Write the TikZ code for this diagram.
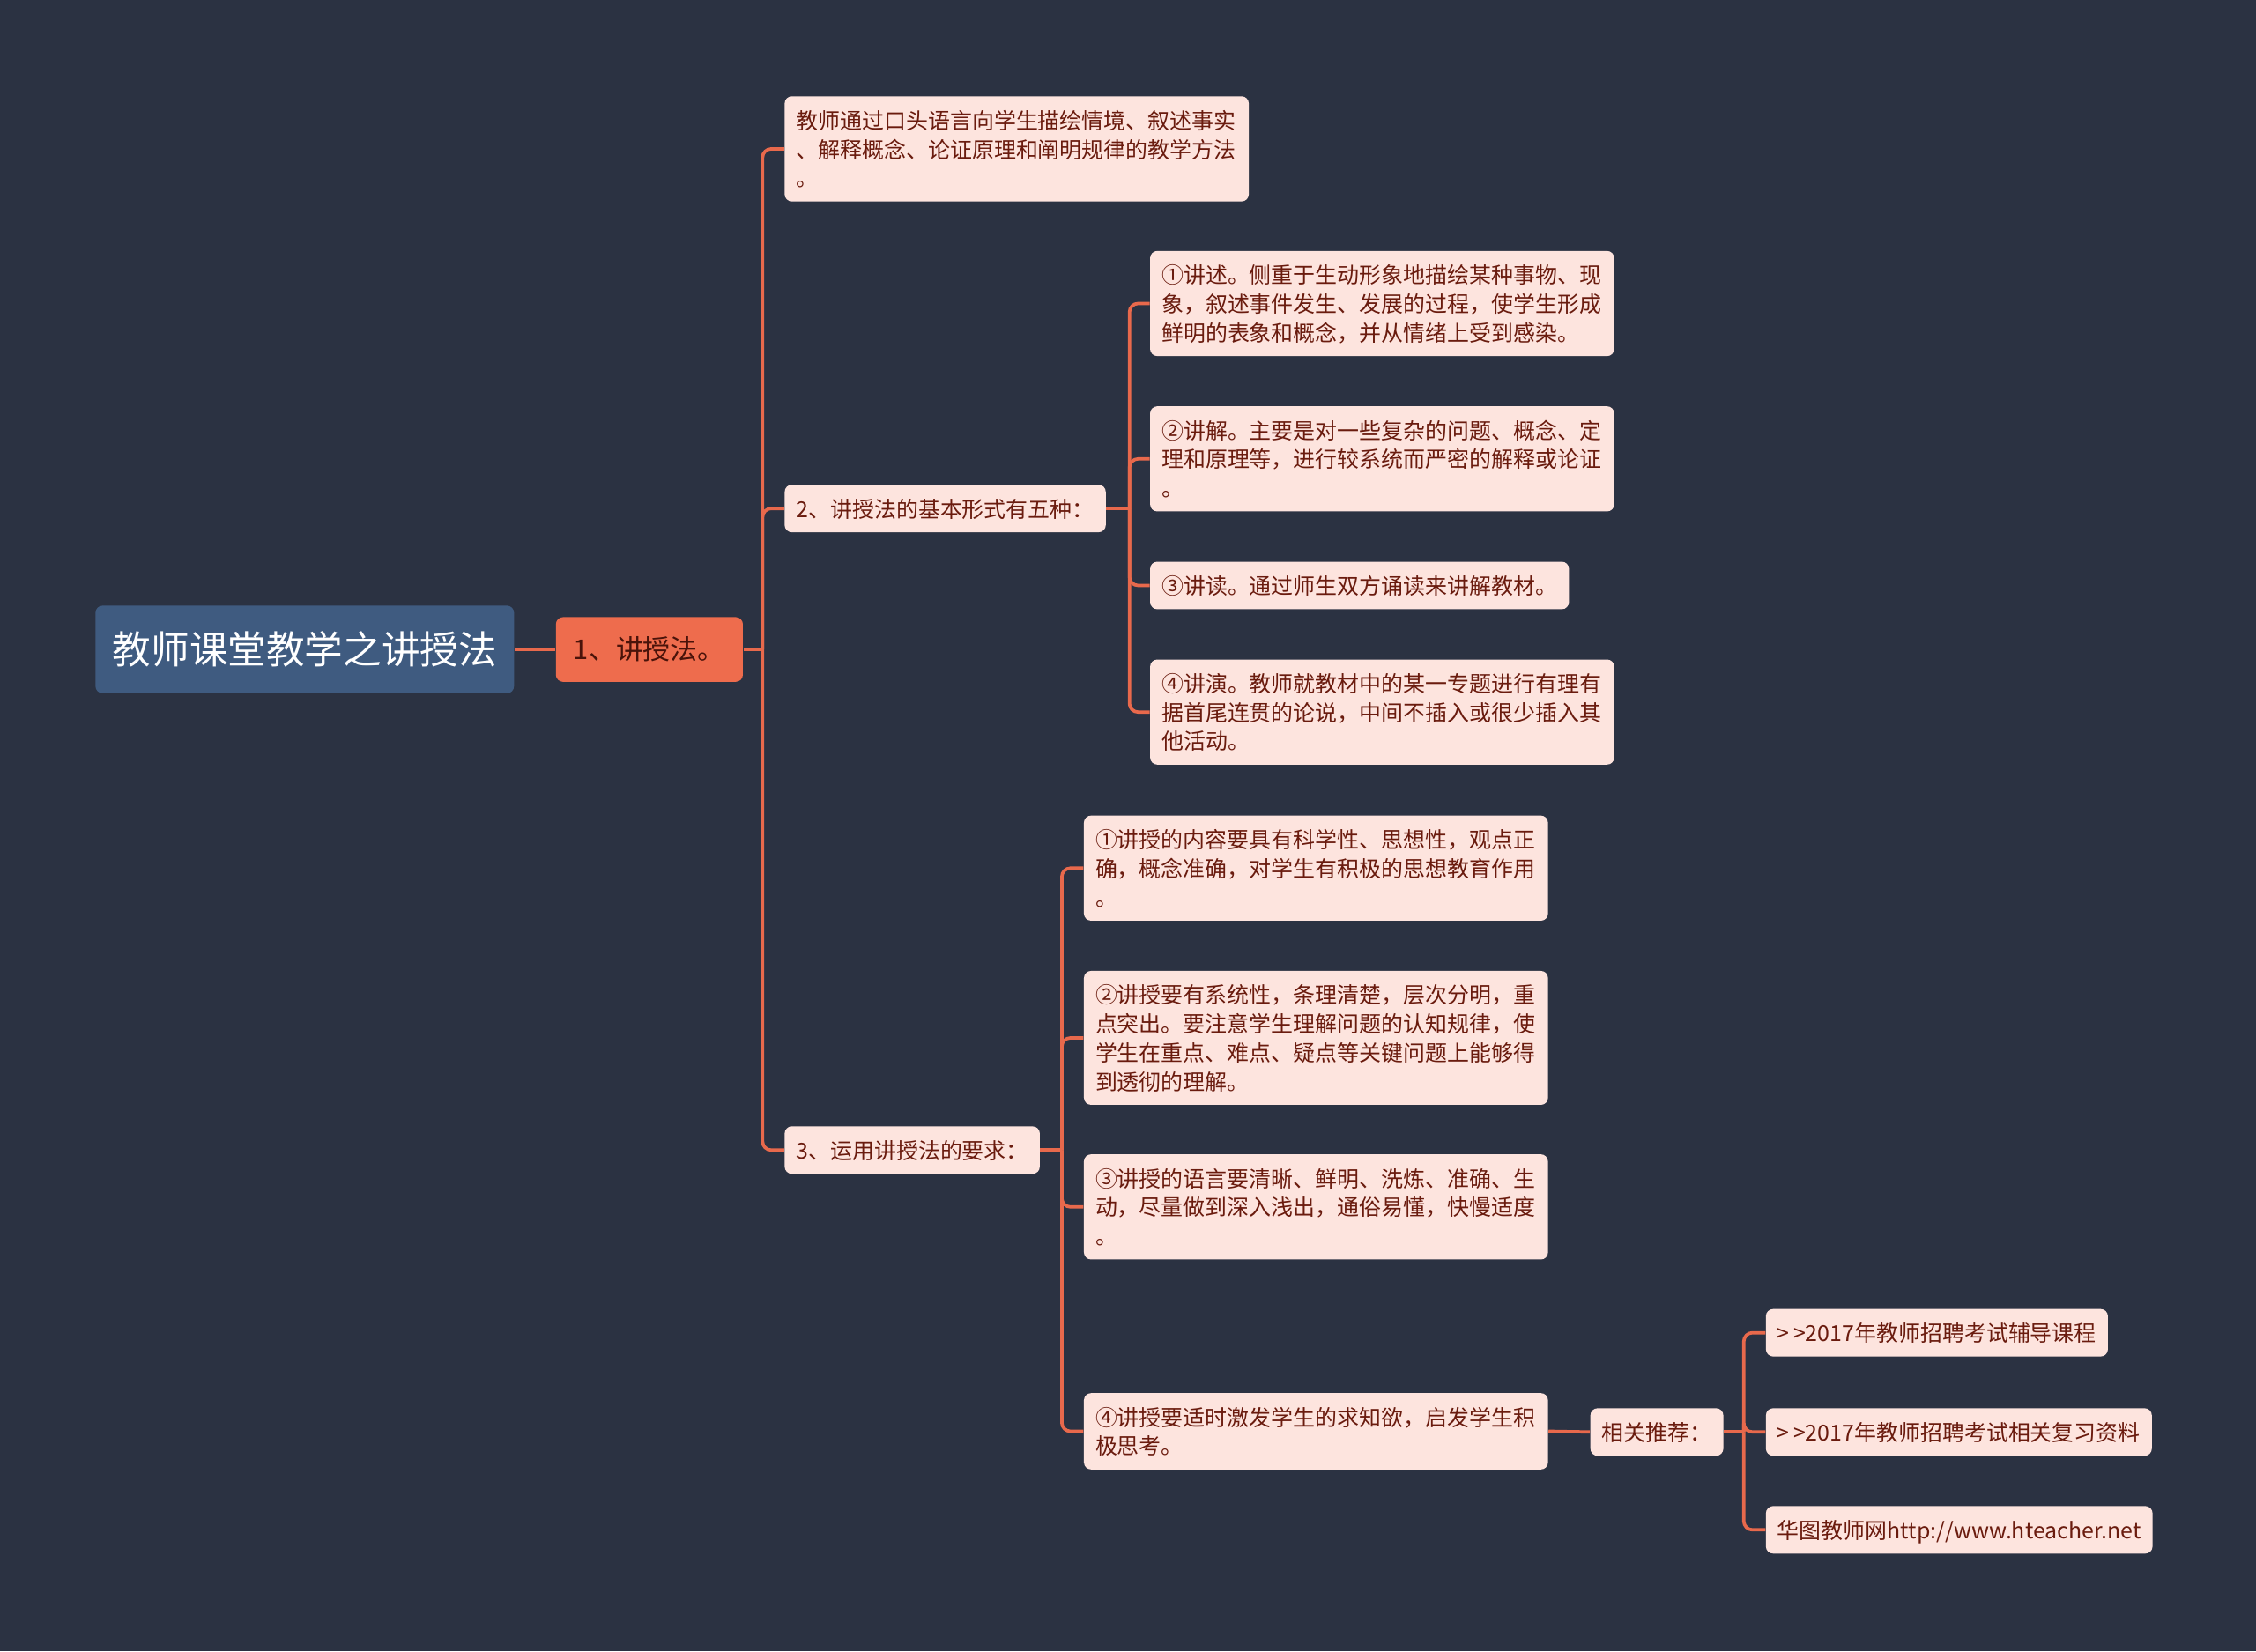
\documentclass[tikz,border=0pt]{standalone}
\usepackage{fontspec}
\setmainfont{Noto Sans CJK SC}
\usepackage{xcolor}
\definecolor{PageNavy}{HTML}{2B3242}
\definecolor{RootBlue}{HTML}{3F5B80}
\definecolor{TopicOrange}{HTML}{EE6C4D}
\definecolor{LeafBlush}{HTML}{FDE4DE}
\definecolor{InkMaroon}{HTML}{6A1B0E}
\definecolor{LinkCoral}{HTML}{E8694C}
\usetikzlibrary{positioning}
\tikzset{
  rootbox/.style={fill=RootBlue, text=white, rounded corners=0.1cm, anchor=west, inner xsep=0pt,
    minimum width=5.82cm, minimum height=1.22cm, font=\fontsize{15.2}{18}\selectfont},
  topicbox/.style={fill=TopicOrange, text=InkMaroon!70!black, rounded corners=0.1cm, anchor=west,
    minimum width=2.6cm, minimum height=0.9cm, font=\fontsize{10.8}{13}\selectfont},
  leafbox/.style={fill=LeafBlush, text=InkMaroon, rounded corners=0.1cm, anchor=west,
    inner xsep=0.16cm, inner ysep=0.13cm, align=left, font=\fontsize{8.7}{11.4}\selectfont,
    execute at begin node=\rule{0pt}{9.2pt}, execute at end node=\rule[-2.2pt]{0pt}{2.2pt}},
  wideleaf/.style={leafbox, text width=174.5pt},
  link/.style={draw=LinkCoral, line width=1.3pt},
  elbow/.style={link, rounded corners=0.12cm}
}

\begin{document}
\begin{tikzpicture}[x=0.02cm, y=-0.02cm]
  \fill[PageNavy] (0,0) rectangle (1568,1148);
  \useasboundingbox (0,0) rectangle (1568,1148);

  \node[rootbox] (root) at (66,451.5) {教师课堂教学之讲授法};
  \node[topicbox] (topic) at (386,451.5) {1、讲授法。};

  \node[wideleaf] (meaning) at (545,103.5) {教师通过口头语言向学生描绘情境、叙述事实\\、解释概念、论证原理和阐明规律的教学方法\\。};
  \node[leafbox] (forms) at (545,353.5) {2、讲授法的基本形式有五种：};
  \node[leafbox] (needs) at (545,799.5) {3、运用讲授法的要求：};

  \node[wideleaf] (narrate) at (799,211) {①讲述。侧重于生动形象地描绘某种事物、现\\象，叙述事件发生、发展的过程，使学生形成\\鲜明的表象和概念，并从情绪上受到感染。};
  \node[wideleaf] (explain) at (799,319) {②讲解。主要是对一些复杂的问题、概念、定\\理和原理等，进行较系统而严密的解释或论证\\。};
  \node[leafbox] (recite) at (799,407) {③讲读。通过师生双方诵读来讲解教材。};
  \node[wideleaf] (speech) at (799,495) {④讲演。教师就教材中的某一专题进行有理有\\据首尾连贯的论说，中间不插入或很少插入其\\他活动。};

  \node[wideleaf] (science) at (753,603.5) {①讲授的内容要具有科学性、思想性，观点正\\确，概念准确，对学生有积极的思想教育作用\\。};
  \node[wideleaf] (system) at (753,721.5) {②讲授要有系统性，条理清楚，层次分明，重\\点突出。要注意学生理解问题的认知规律，使\\学生在重点、难点、疑点等关键问题上能够得\\到透彻的理解。};
  \node[wideleaf] (speak) at (753,839) {③讲授的语言要清晰、鲜明、洗炼、准确、生\\动，尽量做到深入浅出，通俗易懂，快慢适度\\。};
  \node[wideleaf] (spark) at (753,995) {④讲授要适时激发学生的求知欲，启发学生积\\极思考。};

  \node[leafbox] (tips) at (1105,995.5) {相关推荐：};
  \node[leafbox] (tipA) at (1227,926.5) {>\kern1.5pt>2017年教师招聘考试辅导课程};
  \node[leafbox] (tipB) at (1227,995.5) {>\kern1.5pt>2017年教师招聘考试相关复习资料};
  \node[leafbox] (tipC) at (1227,1063.5) {华图教师网http://www.hteacher.net};

  \coordinate (hub) at (530,451.5);
  \coordinate (formshub) at (785,353.5);
  \coordinate (needshub) at (738,799.5);
  \coordinate (tipshub) at (1212,995.5);

  \draw[link] (root.east) -- (topic.west);
  \draw[link] (topic.east) -- (hub);
  \foreach \n in {meaning,forms,needs} \draw[elbow] (hub) |- (\n.west);
  \draw[link] (forms.east) -- (formshub);
  \foreach \n in {narrate,explain,recite,speech} \draw[elbow] (formshub) |- (\n.west);
  \draw[link] (needs.east) -- (needshub);
  \foreach \n in {science,system,speak,spark} \draw[elbow] (needshub) |- (\n.west);
  \draw[link] (spark.east) -- (tips.west);
  \draw[link] (tips.east) -- (tipshub);
  \foreach \n in {tipA,tipB,tipC} \draw[elbow] (tipshub) |- (\n.west);
\end{tikzpicture}
\end{document}
